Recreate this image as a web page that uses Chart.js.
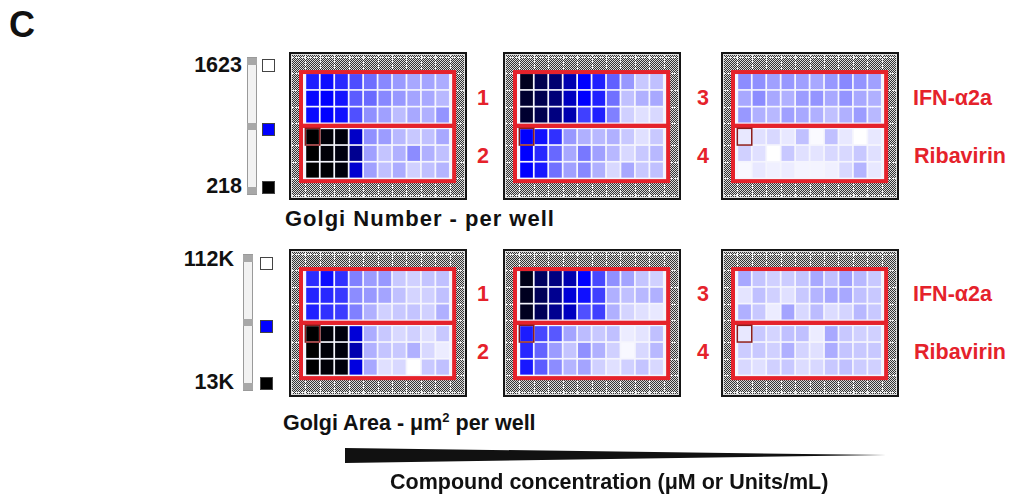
<!DOCTYPE html>
<html><head><meta charset="utf-8">
<script src="https://cdn.jsdelivr.net/npm/chart.js@4/dist/chart.umd.min.js"></script>
<style>
body{margin:0;width:1011px;height:498px;background:#fff;position:relative;overflow:hidden;font-family:"Liberation Sans",Arial,sans-serif;font-weight:bold;color:#111;}
.t{position:absolute;white-space:nowrap;line-height:1;font-size:21.5px;}
.r{color:#e5222b;}
canvas.plate{position:absolute;}
.bar{position:absolute;width:8px;background:#f2f2f2;border:1px solid #9a9a9a;}
.cap{position:absolute;left:-1px;width:10px;height:7px;background:#a8a8a8;}
.sw{position:absolute;width:11px;height:11px;border:1px solid #444;}
</style></head><body>

<div class="t" style="left:9px;top:7px;font-size:36px;">C</div>

<div class="t" id="numMax" style="right:769px;top:54.5px;"></div>
<div class="t" id="numMin" style="right:769px;top:175.5px;"></div>
<div class="bar" style="left:247px;top:57px;height:136px;"><div class="cap" style="top:0"></div><div class="cap" style="top:65px"></div><div class="cap" style="top:129px"></div></div>
<div class="sw" style="left:262px;top:59px;background:#fff;"></div>
<div class="sw" style="left:262px;top:123px;background:#0000ff;"></div>
<div class="sw" style="left:262px;top:181px;background:#000;"></div>
<div class="t" style="left:285px;top:208px;font-size:22px;letter-spacing:1px;">Golgi Number - per well</div>

<div class="t" id="areaMax" style="right:777px;top:248.5px;"></div>
<div class="t" id="areaMin" style="right:777px;top:371.5px;"></div>
<div class="bar" style="left:243px;top:254px;height:135px;"><div class="cap" style="top:0"></div><div class="cap" style="top:64px"></div><div class="cap" style="top:128px"></div></div>
<div class="sw" style="left:260px;top:257px;background:#fff;"></div>
<div class="sw" style="left:260px;top:320px;background:#0000ff;"></div>
<div class="sw" style="left:260px;top:377px;background:#000;"></div>
<div class="t" style="left:283px;top:412.5px;">Golgi Area - &#956;m<sup style="font-size:13px;vertical-align:8px;line-height:0">2</sup> per well</div>

<canvas class="plate" id="p1" width="178" height="148" style="left:289px;top:52px;"></canvas>
<canvas class="plate" id="p2" width="178" height="148" style="left:503px;top:52px;"></canvas>
<canvas class="plate" id="p3" width="178" height="148" style="left:721px;top:52px;"></canvas>
<canvas class="plate" id="p4" width="178" height="148" style="left:289px;top:249px;"></canvas>
<canvas class="plate" id="p5" width="178" height="148" style="left:503px;top:249px;"></canvas>
<canvas class="plate" id="p6" width="178" height="148" style="left:721px;top:249px;"></canvas>

<div class="t r" style="left:477px;top:87.5px;">1</div>
<div class="t r" style="left:477px;top:145.5px;">2</div>
<div class="t r" style="left:697px;top:87.5px;">3</div>
<div class="t r" style="left:697px;top:145.5px;">4</div>
<div class="t r" id="c1a" style="left:913px;top:87.5px;"></div>
<div class="t r" id="c2a" style="left:914px;top:145.5px;"></div>

<div class="t r" style="left:477px;top:283.5px;">1</div>
<div class="t r" style="left:477px;top:341.5px;">2</div>
<div class="t r" style="left:697px;top:283.5px;">3</div>
<div class="t r" style="left:697px;top:341.5px;">4</div>
<div class="t r" id="c1b" style="left:913px;top:283.5px;"></div>
<div class="t r" id="c2b" style="left:914px;top:341.5px;"></div>

<svg style="position:absolute;left:0;top:0" width="1011" height="498"><polygon points="345,448 886,455 345,463" fill="#111"/></svg>
<div class="t" style="left:390px;top:471.5px;">Compound concentration (&#956;M or Units/mL)</div>

<script>
// ---------- data ----------
const concentrationColumns = [1,2,3,4,5,6,7,8,9,10];
const compounds = ['IFN-\u03b12a', 'Ribavirin'];
const numberRange = [218, 1623];
const numberTickLabels = ['1623', '218'];
const areaRange = [13, 112];           // thousands of µm²
const areaTickLabels = ['112K', '13K'];

const golgiNumberPlate1 = [
  [1003, 953,1036,1130,1223,1295,1345,1383,1372,1394],
  [ 942, 920, 975,1174,1212,1295,1339,1372,1383,1427],
  [ 948, 920, 964,1141,1317,1361,1438,1383,1405,1328],
  [ 218, 240, 251, 769,1317,1350,1427,1471,1449,1383],
  [ 218, 240, 262, 615,1361,1460,1405,1306,1405,1449],
  [ 218, 229, 251, 791,1361,1449,1394,1493,1449,1416]
];
const golgiNumberPlate2 = [
  [ 306, 438, 527, 703, 920,1008,1185,1339,1471,1449],
  [ 350, 438, 549, 747, 920,1008,1229,1449,1405,1383],
  [ 350, 438, 571, 703,1096,1008,1273,1493,1537,1515],
  [ 920, 964,1052,1339,1405,1427,1405,1471,1537,1471],
  [ 920,1030,1207,1383,1251,1361,1427,1515,1471,1427],
  [ 920, 986,1229,1361,1295,1405,1515,1383,1471,1449]
];
const golgiNumberPlate3 = [
  [1306,1317,1361,1339,1361,1383,1339,1295,1328,1361],
  [1383,1306,1383,1405,1350,1328,1383,1328,1383,1405],
  [1339,1405,1427,1361,1383,1405,1449,1405,1350,1427],
  [1560,1537,1515,1560,1449,1609,1449,1560,1623,1560],
  [1493,1537,1623,1471,1537,1548,1515,1515,1471,1537],
  [1604,1560,1582,1571,1593,1593,1582,1515,1416,1560]
];
const golgiAreaPlate1 = [
  [71.0,64.8,71.8,87.3,92.8,92.0,101.3,102.9,100.5,99.7],
  [69.5,70.3,73.4,89.7,92.0,94.3,99.7,103.6,102.9,99.7],
  [68.7,71.8,74.1,87.3,96.6,102.9,101.3,100.5,102.9,96.6],
  [13.0,14.6,15.3,54.9,95.9,101.3,104.4,102.9,106.0,101.3],
  [13.0,14.6,15.3,47.1,96.6,100.5,101.3,96.6,104.4,108.3],
  [13.0,14.6,15.3,56.5,95.1,106.0,104.4,112.0,101.3,99.7]
];
const golgiAreaPlate2 = [
  [17.7,31.6,37.8,47.1,62.5,76.5,90.4,94.3,100.5,102.9],
  [19.2,30.1,40.9,54.9,65.6,74.9,96.6,99.7,98.2,96.6],
  [19.2,30.1,40.9,50.2,78.0,74.9,96.6,103.6,106.0,107.5],
  [67.9,76.5,79.6,94.3,99.0,101.3,99.7,108.3,106.7,99.7],
  [70.3,81.9,92.8,100.5,90.4,96.6,102.9,110.6,104.4,98.2],
  [67.2,80.3,89.7,97.4,94.3,102.9,106.0,102.9,100.5,104.4]
];
const golgiAreaPlate3 = [
  [95.1,100.5,102.9,102.1,100.5,95.1,99.7,93.5,98.2,101.3],
  [106.7,99.7,102.9,106.0,101.3,97.4,95.1,95.1,99.7,101.3],
  [96.6,101.3,108.3,94.3,104.4,99.0,105.2,103.6,98.2,101.3],
  [107.5,101.3,103.6,99.7,99.7,108.3,95.1,101.3,102.9,102.9],
  [102.1,101.3,102.9,96.6,103.6,106.0,95.9,100.5,101.3,101.3],
  [104.4,106.0,102.9,101.3,105.2,104.4,101.3,99.7,102.1,102.9]
];

// ---------- text ----------
document.getElementById('numMax').textContent = numberTickLabels[0];
document.getElementById('numMin').textContent = numberTickLabels[1];
document.getElementById('areaMax').textContent = areaTickLabels[0];
document.getElementById('areaMin').textContent = areaTickLabels[1];
document.getElementById('c1a').textContent = compounds[0];
document.getElementById('c2a').textContent = compounds[1];
document.getElementById('c1b').textContent = compounds[0];
document.getElementById('c2b').textContent = compounds[1];

// ---------- helpers ----------
function colorFor(v, range) {
  const t = Math.max(0, Math.min(1, (v - range[0]) / (range[1] - range[0])));
  if (t < 0.5) return 'rgb(0,0,' + Math.round(510 * t) + ')';
  const x = Math.round((t - 0.5) * 510);
  return 'rgb(' + x + ',' + x + ',255)';
}
function rowPos(r) { return r + (r >= 3 ? 0.3 : 0); }

const pc = document.createElement('canvas');
pc.width = 2; pc.height = 2;
const pctx = pc.getContext('2d');
pctx.fillStyle = '#d9d9d9'; pctx.fillRect(0, 0, 2, 2);
pctx.fillStyle = '#333'; pctx.fillRect(0, 0, 1, 1); pctx.fillRect(1, 1, 1, 1);

const RED = '#e5222b';
const platePlugin = {
  id: 'plate',
  beforeDraw(chart) {
    const { ctx, chartArea: a, scales: { x, y } } = chart;
    ctx.save();
    ctx.fillStyle = ctx.createPattern(pc, 'repeat');
    ctx.fillRect(a.left, a.top, a.width, a.height);
    ctx.strokeStyle = 'rgba(255,255,255,0.95)';
    ctx.lineWidth = 1;
    ctx.setLineDash([2, 1]);
    for (let c = -2; c <= 11; c++) {
      const px = Math.round(x.getPixelForValue(c - 0.5)) + 0.5;
      ctx.beginPath(); ctx.moveTo(px, a.top); ctx.lineTo(px, a.bottom); ctx.stroke();
    }
    for (let r = -2; r <= 8; r++) {
      const py = Math.round(y.getPixelForValue(r - 0.5 + (r >= 4 ? 0.3 : 0))) + 0.5;
      ctx.beginPath(); ctx.moveTo(a.left, py); ctx.lineTo(a.right, py); ctx.stroke();
    }
    ctx.setLineDash([]);
    const L = x.getPixelForValue(-0.8), R = x.getPixelForValue(9.8);
    const T = y.getPixelForValue(-0.57), B = y.getPixelForValue(5.96);
    ctx.fillStyle = '#f5f5fd';
    ctx.fillRect(L, T, R - L, B - T);
    ctx.restore();
  },
  afterDatasetsDraw(chart) {
    const { ctx, chartArea: a, scales: { x, y } } = chart;
    ctx.save();
    const L = x.getPixelForValue(-0.8), R = x.getPixelForValue(9.8);
    const T = y.getPixelForValue(-0.57), M = y.getPixelForValue(2.65), B = y.getPixelForValue(5.96);
    ctx.strokeStyle = RED; ctx.lineWidth = 4;
    ctx.strokeRect(L, T, R - L, M - T);
    ctx.strokeRect(L, M, R - L, B - M);
    // highlighted well
    ctx.strokeStyle = '#8a1a1a'; ctx.lineWidth = 1.5;
    const cx0 = x.getPixelForValue(-0.5), cx1 = x.getPixelForValue(0.5);
    const cy0 = y.getPixelForValue(rowPos(3) - 0.5), cy1 = y.getPixelForValue(rowPos(3) + 0.5);
    ctx.strokeRect(cx0, cy0, cx1 - cx0, cy1 - cy0);
    // plate border
    ctx.strokeStyle = '#ddd'; ctx.lineWidth = 1;
    ctx.strokeRect(a.left + 2.5, a.top + 2.5, a.width - 5, a.height - 5);
    ctx.strokeStyle = '#151515'; ctx.lineWidth = 2;
    ctx.strokeRect(a.left + 1, a.top + 1, a.width - 2, a.height - 2);
    ctx.restore();
  }
};

function makePlate(id, plate, range) {
  const datasets = plate.map((row, r) => ({
    data: row.map((v, c) => ({ x: c, y: [rowPos(r) - 0.45, rowPos(r) + 0.45], v: v })),
    backgroundColor: (ctx) => ctx.raw ? colorFor(ctx.raw.v, range) : '#fff',
    borderWidth: 0,
    grouped: false,
    categoryPercentage: 0.88,
    barPercentage: 1
  }));
  new Chart(document.getElementById(id), {
    type: 'bar',
    data: { labels: concentrationColumns, datasets },
    options: {
      responsive: false,
      animation: false,
      events: [],
      layout: { padding: 0 },
      plugins: { legend: { display: false }, tooltip: { enabled: false } },
      scales: {
        x: { type: 'linear', min: -1.63, max: 10.69, display: false, offset: false, grid: { display: false } },
        y: { type: 'linear', min: -1.77, max: 7.09, reverse: true, display: false, grid: { display: false } }
      }
    },
    plugins: [platePlugin]
  });
}

makePlate('p1', golgiNumberPlate1, numberRange);
makePlate('p2', golgiNumberPlate2, numberRange);
makePlate('p3', golgiNumberPlate3, numberRange);
makePlate('p4', golgiAreaPlate1, areaRange);
makePlate('p5', golgiAreaPlate2, areaRange);
makePlate('p6', golgiAreaPlate3, areaRange);
</script>
</body></html>
